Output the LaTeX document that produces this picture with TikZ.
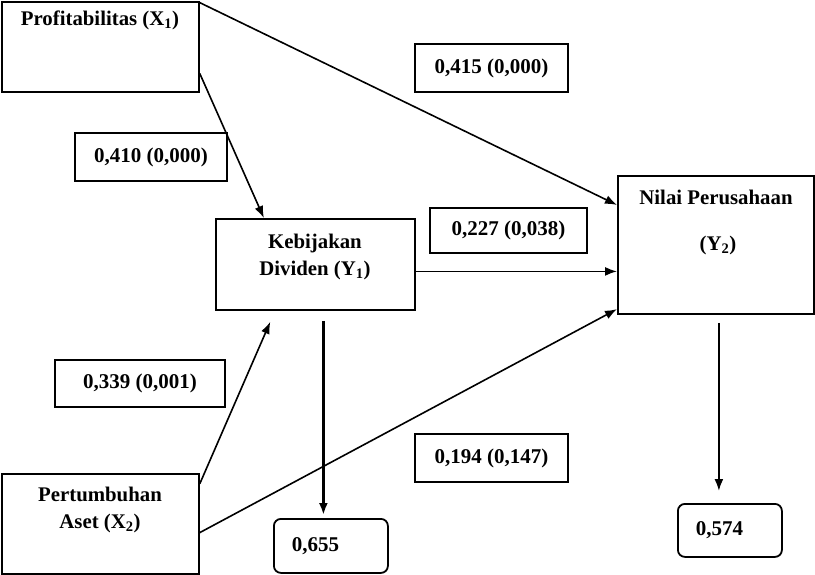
\documentclass[tikz,border=0pt]{standalone}
\usepackage{fontspec}
\setmainfont{Liberation Serif}
\usetikzlibrary{arrows.meta, positioning}

\begin{document}
\begin{tikzpicture}[x=1pt, y=-1pt,
      box/.style={draw, line width=1.8pt, anchor=north west, inner sep=0pt},
      lbl/.style={align=center, font=\bfseries\fontsize{20.8}{27}\selectfont},
      coef/.style={draw, line width=1.8pt, inner sep=0pt, font=\bfseries\fontsize{21}{24}\selectfont},
      res/.style={draw, line width=1.8pt, rounded corners=7pt, align=left, inner xsep=18pt,
                  minimum height=54, font=\bfseries\fontsize{21}{24}\selectfont},
      arrow/.style={-{Latex[length=12pt, width=9pt]}, line width=1.6pt}
    ]
      \useasboundingbox (0,0) rectangle (815,574);
      % variables
      \node[box, minimum width=197, minimum height=90] (x1) at (1,1) {};
      \node[box, minimum width=199, minimum height=91] (y1) at (215,218) {};
      \node[box, minimum width=196, minimum height=138] (y2) at (617,175) {};
      \node[box, minimum width=197, minimum height=100] (x2) at (1,473) {};
      \node[lbl] (x1txt) at (100,20) {Profitabilitas (X\textsubscript{1})};
      \node[lbl] (y1txt) at (315,257) {Kebijakan\\Dividen (Y\textsubscript{1})};
      \node[lbl] (y2txt) at (716,197) {Nilai Perusahaan};
      \node[lbl] (y2sub) at (718,245) {(Y\textsubscript{2})};
      \node[lbl] (x2txt) at (100,510) {Pertumbuhan\\Aset (X\textsubscript{2})};
      % coefficients
      \node[coef, minimum width=153, minimum height=48] (c1) at (491.5,68) {0,415 (0,000)};
      \node[coef, minimum width=152, minimum height=48] (c2) at (151,157) {0,410 (0,000)};
      \node[coef, minimum width=157, minimum height=45] (c3) at (508.5,230.5) {0,227 (0,038)};
      \node[coef, minimum width=170, minimum height=47] (c4) at (140,383.5) {0,339 (0,001)};
      \node[coef, minimum width=153, minimum height=48] (c5) at (491.5,458) {0,194 (0,147)};
      % R square
      \node[res, text width=78pt, anchor=north west] (r1) at (273,518) {0,655};
      \node[res, text width=68pt, minimum height=53, anchor=north west] (r2) at (677,503) {0,574};
      % paths
      \draw[arrow] (x1.24) -- (y2.158);
      \draw[arrow] (x1.-15) -- (y1.138);
      \draw[arrow] (y1.-4) -- (y1.-4 -| y2.west);
      \draw[arrow, shorten >=12pt] (x2.22) -- (y1.-131);
      \draw[arrow] (x2.-5) -- (y2.213);
      \draw[arrow, line width=2.8pt, shorten <=10pt, shorten >=3pt] ([xshift=8pt]y1.south) -- ([xshift=8pt]y1.south |- r1.north);
      \draw[arrow, line width=2pt, shorten <=8pt, shorten >=12pt] ([xshift=3pt]y2.south) -- ([xshift=3pt]y2.south |- r2.north);
    \end{tikzpicture}
\end{document}
